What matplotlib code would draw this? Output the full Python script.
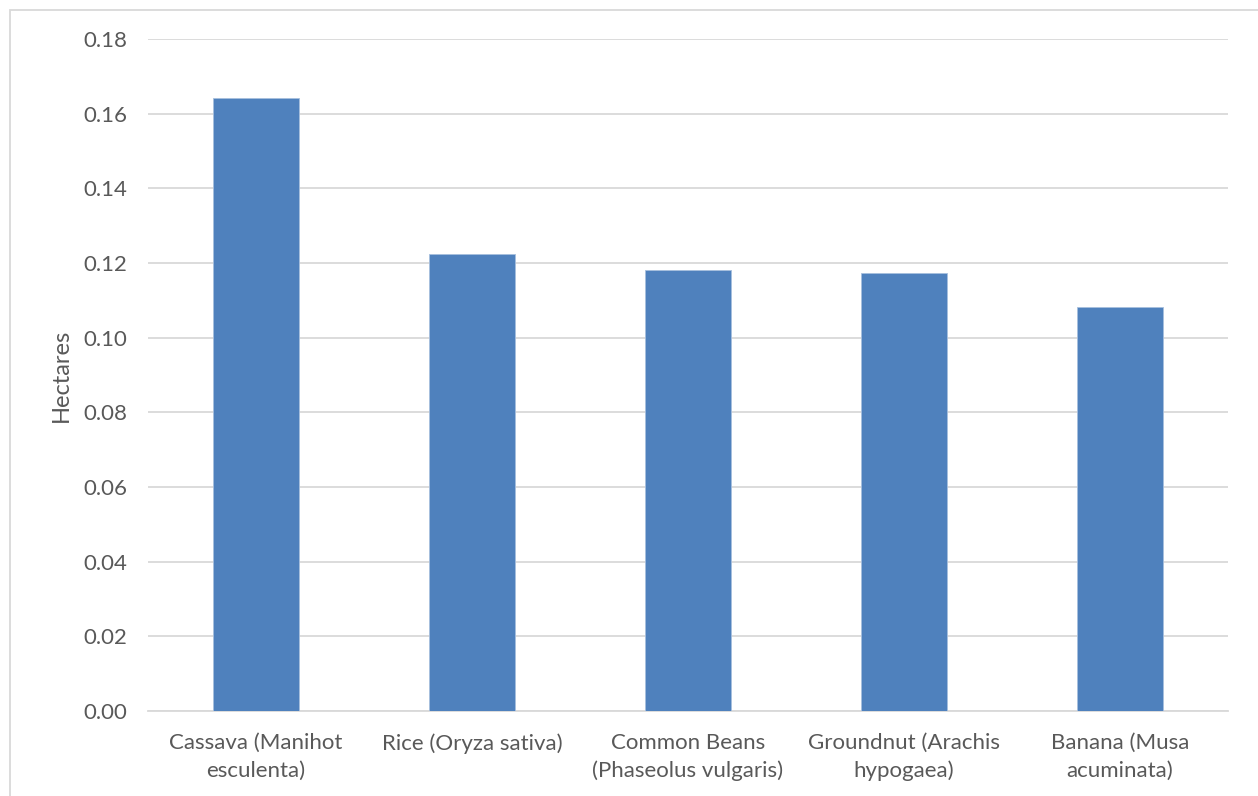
import matplotlib.pyplot as plt
from matplotlib.patches import Rectangle

crops = ['Cassava (Manihot\nesculenta)', 'Rice (Oryza sativa)',
         'Common Beans\n(Phaseolus vulgaris)', 'Groundnut (Arachis\nhypogaea)',
         'Banana (Musa\nacuminata)']
hectares = [0.1641, 0.1224, 0.1180, 0.1173, 0.1082]
yticks = [0.00, 0.02, 0.04, 0.06, 0.08, 0.10, 0.12, 0.14, 0.16, 0.18]

text_color = '#595959'
grid_color = '#d9d9d9'
plt.rcParams['font.family'] = ['Lato', 'DejaVu Sans']

fig = plt.figure(figsize=(12.58, 7.96), dpi=100)
ax = fig.add_axes([148 / 1258, 1 - 711 / 796, 1080 / 1258, 672 / 796])

x = range(len(crops))
ax.bar(x, hectares, width=0.4, color='#4f81bd', edgecolor='#a7bfde',
       linewidth=0.6, zorder=3)

ax.set_xlim(-0.5, len(crops) - 0.5)
ax.set_ylim(0, 0.18)
ax.set_yticks(yticks)
ax.set_yticklabels(['%.2f' % t for t in yticks])
ax.yaxis.grid(True, color=grid_color, linewidth=1.3, zorder=0)
ax.set_axisbelow(True)

ax.set_xticks(list(x))
ax.set_xticklabels(crops, linespacing=1.45)

for side in ['top', 'right', 'left']:
    ax.spines[side].set_visible(False)
ax.spines['bottom'].set_color(grid_color)
ax.spines['bottom'].set_linewidth(1.3)

ax.tick_params(axis='both', length=0, colors=text_color, labelsize=16)
ax.tick_params(axis='y', pad=15)
ax.tick_params(axis='x', pad=16)

ax.set_ylabel('Hectares', color=text_color, fontsize=17, labelpad=8)

# chart area border, cut off at the right and bottom edges
fig.add_artist(Rectangle((10 / 1258, -0.1), 1.2, 1 - 10 / 796 + 0.1,
                         transform=fig.transFigure, fill=False,
                         edgecolor=grid_color, linewidth=1.3))

fig.savefig('out.png', dpi=100)
